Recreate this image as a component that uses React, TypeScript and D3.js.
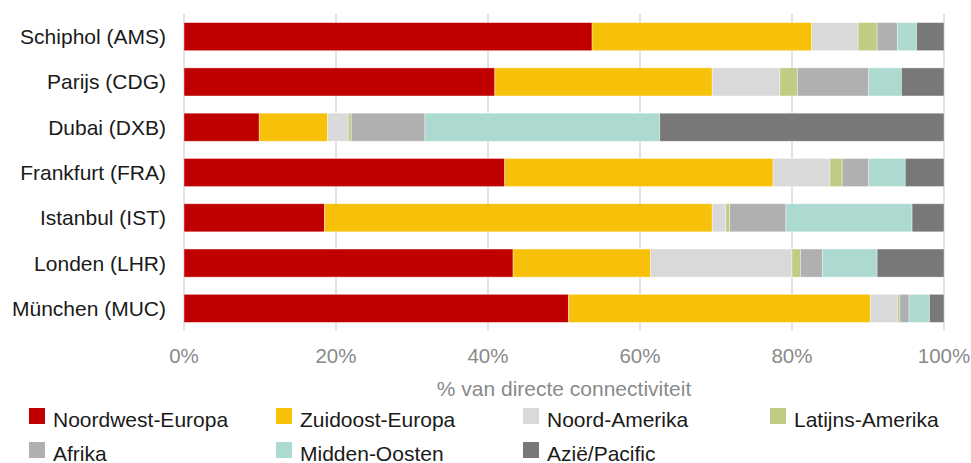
import * as d3 from "d3";

const airports = [
  "Schiphol (AMS)",
  "Parijs (CDG)",
  "Dubai (DXB)",
  "Frankfurt (FRA)",
  "Istanbul (IST)",
  "Londen (LHR)",
  "München (MUC)",
];

const regions = [
  "Noordwest-Europa",
  "Zuidoost-Europa",
  "Noord-Amerika",
  "Latijns-Amerika",
  "Afrika",
  "Midden-Oosten",
  "Azië/Pacific",
];

// share of direct connectivity per region, in airport order
const noordwestEuropa = [53.7, 40.9, 9.9, 42.2, 18.5, 43.3, 50.6];
const zuidoostEuropa = [28.9, 28.6, 9.0, 35.3, 51.0, 18.1, 39.7];
const noordAmerika = [6.1, 8.9, 2.7, 7.5, 1.8, 18.6, 3.6];
const latijnsAmerika = [2.5, 2.3, 0.4, 1.6, 0.5, 1.1, 0.3];
const afrika = [2.7, 9.4, 9.7, 3.5, 7.4, 2.9, 1.2];
const middenOosten = [2.5, 4.3, 30.9, 4.8, 16.6, 7.2, 2.7];
const aziePacific = [3.6, 5.6, 37.4, 5.1, 4.2, 8.8, 1.9];

const seriesValues = [
  noordwestEuropa,
  zuidoostEuropa,
  noordAmerika,
  latijnsAmerika,
  afrika,
  middenOosten,
  aziePacific,
];

const colors = ["#c00000", "#f8c109", "#d9d9d9", "#bfcc84", "#b0b0b0", "#acdad1", "#787878"];

const xTicks = [0, 20, 40, 60, 80, 100];

const font = "'Liberation Sans', Arial, sans-serif";

export default function App() {
  const width = 971;
  const height = 463;

  const x = d3.scaleLinear().domain([0, 100]).range([184, 944]);
  const y = d3
    .scaleBand<string>()
    .domain(airports)
    .range([14, 331])
    .paddingInner(0.38)
    .paddingOuter(0.19);

  const rows = airports.map((name, i) => {
    const row: Record<string, any> = { name };
    regions.forEach((r, j) => (row[r] = seriesValues[j][i]));
    return row;
  });
  const stacked = d3.stack<any>().keys(regions)(rows);

  return (
    <svg
      width={width}
      height={height}
      style={{ position: "absolute", left: 0, top: 0, fontFamily: font }}
    >
      {xTicks.map((t) => (
        <g key={t}>
          <line x1={x(t)} x2={x(t)} y1={14} y2={331} stroke="#d9d9d9" strokeWidth={1.5} />
          <text x={x(t)} y={363} textAnchor="middle" fontSize={20.5} fill="#8a8a8a">
            {t}%
          </text>
        </g>
      ))}

      {stacked.map((layer, j) => (
        <g key={regions[j]} fill={colors[j]}>
          {layer.map((d, i) => (
            <rect
              key={i}
              x={x(d[0])}
              y={y(airports[i])}
              width={x(d[1]) - x(d[0])}
              height={y.bandwidth()}
              stroke="#ffffff"
              strokeWidth={0.75}
              strokeOpacity={0.5}
            />
          ))}
        </g>
      ))}

      {airports.map((a) => (
        <text
          key={a}
          x={166}
          y={(y(a) ?? 0) + y.bandwidth() / 2}
          dy="0.36em"
          textAnchor="end"
          fontSize={21}
          fill="#1a1a1a"
        >
          {a}
        </text>
      ))}

      <text x={x(50)} y={396} textAnchor="middle" fontSize={21} fill="#8a8a8a">
        % van directe connectiviteit
      </text>

      {regions.map((r, j) => {
        const col = j % 4;
        const row = Math.floor(j / 4);
        const lx = 29 + col * 247;
        const ly = 408 + row * 34;
        return (
          <g key={r}>
            <rect x={lx} y={ly} width={16} height={16} fill={colors[j]} />
            <text x={lx + 24} y={ly + 18.5} fontSize={21} fill="#1a1a1a">
              {r}
            </text>
          </g>
        );
      })}
    </svg>
  );
}
